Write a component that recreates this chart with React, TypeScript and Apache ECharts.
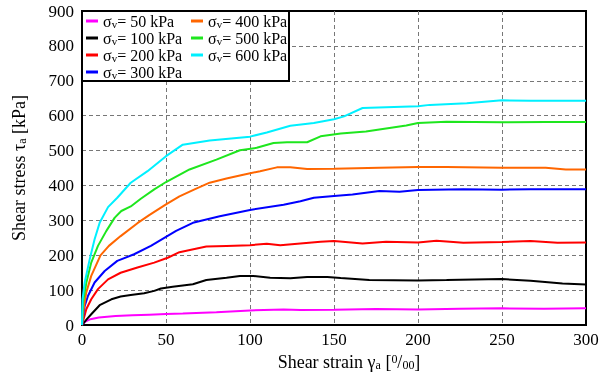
import React, { useEffect, useRef } from 'react';
import * as echarts from 'echarts';

const pressures = [50, 100, 200, 300, 400, 500, 600];
const colors = ['#ff00ff', '#000000', '#ff0000', '#0000ff', '#ff6600', '#1ee61e', '#00f0ff'];

const xTicks = [0, 50, 100, 150, 200, 250, 300];
const yTicks = [0, 100, 200, 300, 400, 500, 600, 700, 800, 900];

const strain50 = [0, 2, 5, 10, 20, 30, 40, 50, 60, 80, 100, 120, 130, 150, 175, 200, 225, 250, 275, 300];
const stress50 = [0, 10, 17, 22, 26, 28, 30, 32, 33, 37, 42, 45, 43, 44, 46, 45, 47, 48, 47, 48];

const strain100 = [0, 3, 5.5, 10.5, 17.5, 23, 29, 37, 43, 47, 54, 66, 74, 86, 94, 102, 112, 124, 134, 146, 154, 171, 200, 217, 250, 267, 286, 300];
const stress100 = [0, 18, 31, 57, 74, 82, 86, 91, 98, 105, 110, 117, 129, 136, 141, 141, 136, 134, 138, 138, 135, 129, 128, 129, 132, 127, 119, 116];

const strain200 = [0, 2.6, 5.5, 9.5, 15.5, 23, 33, 43, 51, 58, 74, 86, 100, 110, 118, 130, 142, 150, 167, 181, 200, 211, 227, 250, 267, 283, 300];
const stress200 = [0, 46, 74, 103, 131, 150, 165, 179, 193, 209, 225, 227, 229, 233, 229, 234, 239, 241, 234, 239, 237, 242, 236, 238, 241, 236, 237];

const strain300 = [0, 1.6, 3.6, 7.5, 13.5, 21, 31, 41, 50, 56, 66, 82, 100, 120, 130, 138, 150, 161, 177, 189, 200, 227, 250, 267, 300];
const stress300 = [0, 55, 84, 122, 155, 184, 203, 227, 253, 270, 293, 312, 330, 345, 355, 365, 370, 374, 384, 382, 387, 389, 388, 389, 389];

const strain400 = [0, 1, 2.5, 5.5, 11, 16, 23, 33, 40, 50, 58, 67, 76, 86, 96, 106, 116, 124, 134, 150, 177, 200, 217, 250, 276, 288, 300];
const stress400 = [0, 46, 93, 141, 200, 227, 255, 292, 315, 346, 369, 389, 408, 420, 431, 441, 452, 452, 447, 448, 451, 453, 453, 451, 451, 446, 446];

const strain500 = [0, 0.6, 2.6, 5.5, 9.5, 14.5, 19.5, 23.4, 29, 35, 43, 50, 64, 80, 94, 104, 114, 122, 134, 142, 154, 169, 193, 200, 217, 250, 276, 300];
const stress500 = [0, 65, 122, 179, 227, 270, 308, 327, 340, 362, 389, 410, 446, 474, 501, 508, 522, 524, 524, 541, 549, 555, 572, 579, 583, 581, 582, 582];

const strain600 = [0, 0.3, 1.6, 4.6, 7.5, 10.5, 15.5, 21, 29, 39, 50, 60, 76, 100, 110, 124, 138, 150, 156, 167, 181, 200, 207, 229, 250, 267, 300];
const stress600 = [0, 74, 122, 189, 246, 293, 338, 365, 408, 441, 484, 517, 529, 540, 552, 571, 579, 590, 598, 622, 624, 627, 631, 636, 644, 643, 643];

const strains = [strain50, strain100, strain200, strain300, strain400, strain500, strain600];
const stresses = [stress50, stress100, stress200, stress300, stress400, stress500, stress600];

const makeRich = (size: number) => ({
  g: { fontFamily: 'serif', fontSize: size, color: '#000', lineHeight: size },
  s: { fontFamily: 'serif', fontSize: Math.round(size * 0.68), color: '#000', verticalAlign: 'bottom', lineHeight: 6 },
  sup: { fontFamily: 'serif', fontSize: Math.round(size * 0.68), color: '#000', verticalAlign: 'top', lineHeight: 6 },
});

const seriesName = (p: number) => `σv= ${p} kPa`;

export default function App() {
  const ref = useRef<HTMLDivElement>(null);

  useEffect(() => {
    if (!ref.current) return;
    const chart = echarts.init(ref.current, undefined, { renderer: 'svg' });

    const series = pressures.map((p, i) => ({
      name: seriesName(p),
      type: 'line',
      data: strains[i].map((x, j) => [x, stresses[i][j]]),
      showSymbol: false,
      symbol: 'none',
      itemStyle: { color: colors[i] },
      lineStyle: { width: 2, color: colors[i] },
    }));

    const legendCommon = () => ({
      orient: 'vertical',
      top: 8,
      itemGap: 1,
      itemWidth: 12,
      itemHeight: 3,
      icon: 'rect',
      selectedMode: false,
      formatter: (name: string) => `{g|σ}{s|v}{g|${name.slice(2)}}`,
      textStyle: { fontFamily: 'serif', fontSize: 16, color: '#000', rich: makeRich(16) },
    });

    chart.setOption({
      animation: false,
      grid: {
        left: 82,
        right: 19,
        top: 11,
        bottom: 50,
        show: true,
        borderColor: '#000',
        borderWidth: 2,
      },
      legend: [
        { ...legendCommon(), left: 81, data: pressures.slice(0, 4).map(seriesName) },
        { ...legendCommon(), left: 186, data: pressures.slice(4).map(seriesName) },
      ],
      graphic: [
        {
          type: 'rect',
          z: 3,
          shape: { x: 82, y: 11, width: 207, height: 70 },
          style: { fill: '#fff', stroke: '#000', lineWidth: 2 },
        },
      ],
      xAxis: {
        type: 'value',
        min: xTicks[0],
        max: xTicks[xTicks.length - 1],
        interval: xTicks[1] - xTicks[0],
        name: '{g|Shear strain γ}{s|a}{g| [}{sup|0}{g|/}{s|00}{g|]}',
        nameLocation: 'middle',
        nameGap: 27,
        nameTextStyle: { fontFamily: 'serif', fontSize: 18, color: '#000', rich: makeRich(18), padding: [0, 0, 0, 30] },
        axisLine: { show: true, onZero: false, lineStyle: { color: '#000', width: 2 } },
        axisTick: { show: false },
        axisLabel: { fontFamily: 'serif', fontSize: 17, color: '#000', margin: 6 },
        splitLine: {
          show: true,
          showMinLine: false,
          showMaxLine: false,
          lineStyle: { color: '#777', type: [4, 3], width: 1 },
        },
      },
      yAxis: {
        type: 'value',
        min: yTicks[0],
        max: yTicks[yTicks.length - 1],
        interval: yTicks[1] - yTicks[0],
        name: '{g|Shear stress τ}{s|a}{g| [kPa]}',
        nameLocation: 'middle',
        nameGap: 54,
        nameTextStyle: { fontFamily: 'serif', fontSize: 18, color: '#000', rich: makeRich(18) },
        axisLine: { show: true, onZero: false, lineStyle: { color: '#000', width: 2 } },
        axisTick: { show: false },
        axisLabel: { fontFamily: 'serif', fontSize: 17, color: '#000', margin: 8 },
        splitLine: {
          show: true,
          showMinLine: false,
          showMaxLine: false,
          lineStyle: { color: '#777', type: [4, 3], width: 1 },
        },
      },
      series,
    });

    return () => chart.dispose();
  }, []);

  return (
    <div
      ref={ref}
      style={{ position: 'fixed', left: 0, top: 0, width: 605, height: 376 }}
    />
  );
}
